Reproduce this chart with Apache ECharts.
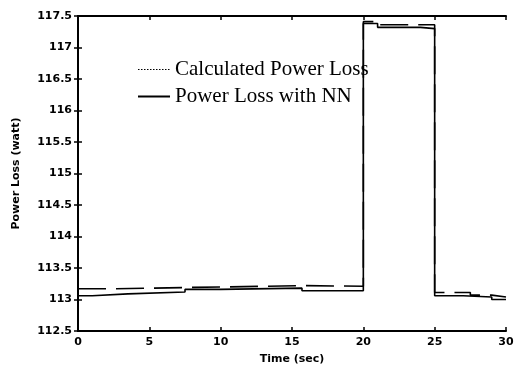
<!DOCTYPE html>
<html>
<head>
<meta charset="utf-8">
<script src="https://cdn.jsdelivr.net/npm/echarts@6/dist/echarts.min.js"></script>
<style>
  html, body { margin: 0; padding: 0; background: #fff; }
  #chart { width: 516px; height: 366px; }
</style>
</head>
<body>
<div id="chart"></div>
<script>
// calculated power loss (dashed), step data
const calcTime = [0, 2.5, 7.5, 16, 20, 21, 25, 27.5, 29, 30];
const calcLoss = [113.17, 113.19, 113.22, 113.21, 117.41, 117.36, 113.11, 113.07, 113.04, 113.04];

// power loss estimated with NN (solid)
const nnTime = [0, 1, 3.5, 7.5, 10, 15.7, 20, 21, 24, 25, 27, 29, 30];
const nnLoss = [113.06, 113.09, 113.12, 113.16, 113.18, 113.14, 117.38, 117.32, 117.30, 113.06, 113.04, 113.0, 113.0];

const seriesNames = ["Calculated Power Loss", "Power Loss with NN"];

const tickFont = { fontFamily: "DejaVu Sans", fontWeight: "bold", fontSize: 11, color: "#000" };

const pairs = (xs, ys) => xs.map((x, i) => [x, ys[i]]);

const chart = echarts.init(document.getElementById("chart"));

const boxAxis = {
  axisLine: { show: true, lineStyle: { color: "#000", width: 2 } },
  axisTick: { show: true, inside: true, length: 4, lineStyle: { color: "#000", width: 1.5 } },
  splitLine: { show: false },
};

chart.setOption({
  animation: false,
  backgroundColor: "#fff",
  grid: { left: 78, right: 10, top: 16, bottom: 35, outerBoundsMode: "none" },
  legend: {
    show: true,
    orient: "vertical",
    left: 132,
    top: 54,
    itemWidth: 32,
    itemHeight: 14,
    itemGap: 6,
    itemStyle: { opacity: 0 },
    textStyle: { fontFamily: "Liberation Serif", fontSize: 21, color: "#000" },
    data: [
      { name: seriesNames[0], lineStyle: { type: [1.5, 1.5], width: 1.2 } },
      { name: seriesNames[1], lineStyle: { width: 2 } },
    ],
  },
  xAxis: [
    {
      type: "value",
      min: 0,
      max: 30,
      interval: 5,
      name: "Time (sec)",
      nameLocation: "middle",
      nameGap: 23,
      nameTextStyle: tickFont,
      axisLabel: { ...tickFont, margin: 6 },
      ...boxAxis,
    },
    {
      type: "value",
      position: "top",
      min: 0,
      max: 30,
      interval: 5,
      axisLabel: { show: false },
      ...boxAxis,
    },
  ],
  yAxis: [
    {
      type: "value",
      min: 112.5,
      max: 117.5,
      interval: 0.5,
      name: "Power Loss (watt)",
      nameLocation: "middle",
      nameGap: 56,
      nameTextStyle: tickFont,
      axisLabel: { ...tickFont, margin: 6 },
      ...boxAxis,
    },
    {
      type: "value",
      position: "right",
      min: 112.5,
      max: 117.5,
      interval: 0.5,
      axisLabel: { show: false },
      ...boxAxis,
    },
  ],
  series: [
    {
      name: seriesNames[0],
      type: "line",
      step: "end",
      symbol: "none",
      data: pairs(calcTime, calcLoss),
      lineStyle: { color: "#000", width: 1.6, type: [28, 10] },
      itemStyle: { color: "#000" },
    },
    {
      name: seriesNames[1],
      type: "line",
      step: "end",
      symbol: "none",
      data: pairs(nnTime, nnLoss),
      lineStyle: { color: "#000", width: 1.6 },
      itemStyle: { color: "#000" },
    },
  ],
});
</script>
</body>
</html>
